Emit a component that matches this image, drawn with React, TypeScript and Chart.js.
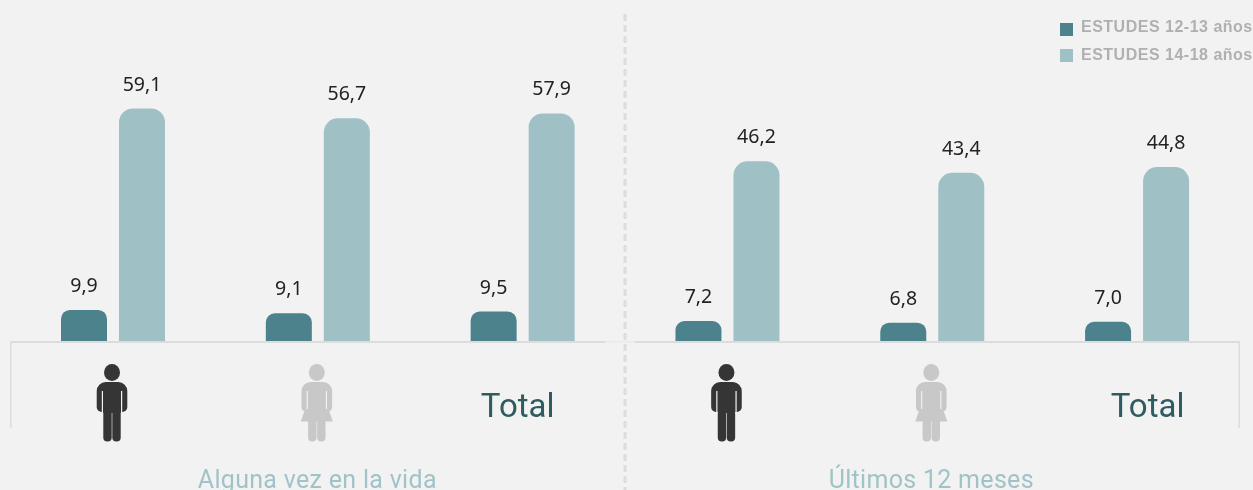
import React, { useEffect, useRef } from "react";
import { Chart, registerables } from "chart.js";

Chart.register(...registerables);

const categories = ["Hombres", "Mujeres", "Total", "Hombres ", "Mujeres ", "Total "];
const series1Label = "ESTUDES 12-13 años";
const series2Label = "ESTUDES 14-18 años";
const series1 = [9.9, 9.1, 9.5, 7.2, 6.8, 7.0];
const series2 = [59.1, 56.7, 57.9, 46.2, 43.4, 44.8];
const periods = ["Alguna vez en la vida", "Últimos 12 meses"];
const DARK = "#4b828b";
const LIGHT = "#9fc0c5";
const BG = "#f2f2f2";
const RULE = "#dcdcdc";

function rr(ctx: CanvasRenderingContext2D, x: number, y: number, w: number, h: number, r: number) {
  ctx.beginPath();
  ctx.roundRect(x, y, w, h, r);
  ctx.fill();
}

function person(ctx: CanvasRenderingContext2D, cx: number, color: string, female: boolean) {
  ctx.save();
  ctx.translate(cx, 0);
  ctx.fillStyle = color;
  ctx.beginPath();
  ctx.ellipse(0, 372.5, 8, 8.5, 0, 0, Math.PI * 2);
  ctx.fill();
  // torso and arms
  ctx.beginPath();
  ctx.roundRect(-15.3, 382, 30.6, 30, [9, 9, 5, 5]);
  ctx.fill();
  // legs
  rr(ctx, -8.7, 405, 8.4, 36.5, 4);
  rr(ctx, 0.3, 405, 8.4, 36.5, 4);
  ctx.fillRect(-8.7, 405, 17.4, female ? 16 : 8);
  if (female) {
    ctx.beginPath();
    ctx.moveTo(-10, 404);
    ctx.lineTo(10, 404);
    ctx.lineTo(16, 421.5);
    ctx.lineTo(-16, 421.5);
    ctx.closePath();
    ctx.fill();
  }
  // arm gaps
  ctx.fillStyle = BG;
  ctx.fillRect(-10.2, 391, 1.2, female ? 18 : 22);
  ctx.fillRect(9, 391, 1.2, female ? 18 : 22);
  if (!female) {
    ctx.fillRect(-15.5, 412, 6.5, 2);
    ctx.fillRect(9, 412, 6.5, 2);
  }
  ctx.restore();
}

const overlay = {
  id: "overlay",
  beforeDatasetsDraw(chart: any) {
    const ctx: CanvasRenderingContext2D = chart.ctx;
    ctx.save();
    // dashed divider
    ctx.strokeStyle = RULE;
    ctx.lineWidth = 3;
    ctx.setLineDash([7, 4]);
    ctx.beginPath();
    ctx.moveTo(625, 14);
    ctx.lineTo(625, 490);
    ctx.stroke();
    ctx.restore();
  },
  afterDatasetsDraw(chart: any) {
    const ctx: CanvasRenderingContext2D = chart.ctx;
    const xs = chart.scales.x;
    ctx.save();
    // base frame
    ctx.fillStyle = RULE;
    ctx.fillRect(10, 341, 595, 2);
    ctx.fillRect(635, 341, 605, 2);
    ctx.fillStyle = "#e9e9e9";
    ctx.fillRect(605, 341, 30, 1.5);
    ctx.fillStyle = RULE;
    ctx.fillRect(10, 341, 1.5, 87);
    ctx.fillRect(1238.5, 341, 1.5, 87);

    // value labels
    ctx.textAlign = "center";
    ctx.textBaseline = "middle";
    ctx.fillStyle = "#222222";
    ctx.font = '19.5px "Noto Sans"';
    chart.data.datasets.forEach((ds: any, i: number) => {
      chart.getDatasetMeta(i).data.forEach((bar: any, j: number) => {
        ctx.fillText(String(ds.data[j].toFixed(1)).replace(".", ","), bar.x, bar.y - 23.5);
      });
    });

    // category icons & totals
    [0, 1, 3, 4].forEach((i) => {
      const female = i % 3 === 1;
      person(ctx, xs.getPixelForValue(i) - 1, female ? "#c8c8c8" : "#353535", female);
    });
    ctx.fillStyle = "#2f5c60";
    ctx.font = '33px "Roboto"';
    ctx.fillText(categories[2].trim(), xs.getPixelForValue(2) - 5, 408.5);
    ctx.fillText(categories[5].trim(), xs.getPixelForValue(5) + 10.5, 408.5);

    // period titles
    ctx.fillStyle = "#a0c3c8";
    ctx.font = '25px "Roboto"';
    (ctx as any).letterSpacing = "0.3px";
    ctx.fillText(periods[0], xs.getPixelForValue(1) - 0.5, 482);
    ctx.fillText(periods[1], xs.getPixelForValue(4) - 1, 482);

    // legend
    (ctx as any).letterSpacing = "0.5px";
    ctx.textAlign = "left";
    ctx.font = 'bold 16px "Liberation Sans"';
    chart.data.datasets.forEach((ds: any, i: number) => {
      const y = 23 + i * 26;
      ctx.fillStyle = ds.backgroundColor;
      ctx.fillRect(1060, y, 13, 13);
      ctx.fillStyle = "#b0b0b0";
      ctx.fillText(ds.label, 1081, 27.5 + i * 28);
    });
    ctx.restore();
  },
};

export default function App() {
  const ref = useRef<HTMLCanvasElement>(null);
  useEffect(() => {
    document.body.style.margin = "0";
    document.body.style.background = BG;
    const chart = new Chart(ref.current!, {
      type: "bar",
      data: {
        labels: categories,
        datasets: [
          { label: series1Label, data: series1, backgroundColor: DARK, borderRadius: { topLeft: 9, topRight: 9, bottomLeft: 0, bottomRight: 0 }, borderSkipped: false },
          { label: series2Label, data: series2, backgroundColor: LIGHT, borderRadius: { topLeft: 14, topRight: 14, bottomLeft: 0, bottomRight: 0 }, borderSkipped: false },
        ],
      },
      options: {
        responsive: false,
        animation: false,
        layout: { padding: { left: 10.6, right: 13.5, top: 0, bottom: 148 } },
        datasets: { bar: { categoryPercentage: 0.5664, barPercentage: 0.793 } },
        scales: {
          x: { display: false },
          y: { display: false, min: 2.08, max: 85.6 },
        },
        plugins: { legend: { display: false }, tooltip: { enabled: false } },
      },
      plugins: [overlay],
    } as any);
    return () => chart.destroy();
  }, []);
  return <canvas ref={ref} width={1253} height={490} style={{ display: "block", background: BG }} />;
}
